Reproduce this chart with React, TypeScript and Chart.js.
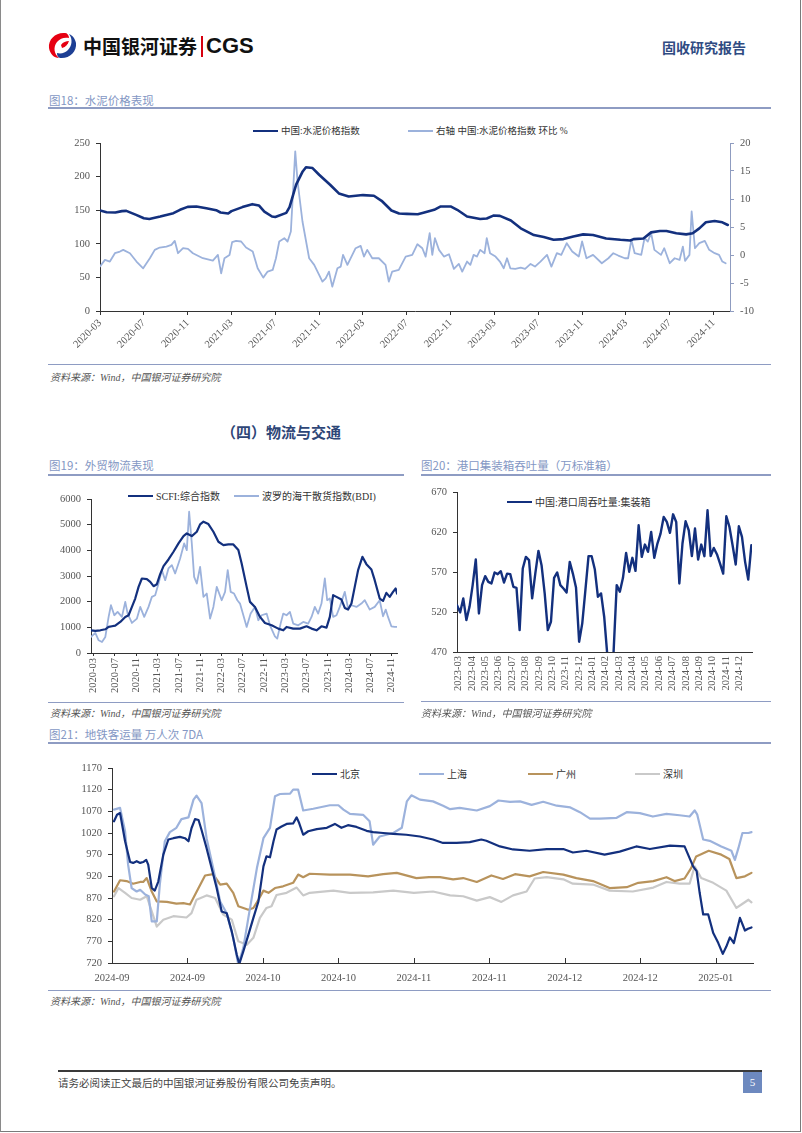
import React, { useEffect, useRef } from 'react';
import { Chart, registerables } from 'chart.js';
Chart.register(...registerables);

const NAVY = '#13307e';
const LIGHT = '#9cb2dc';
const TAN = '#b8935c';
const GREY = '#c9c9c9';
const AXIS = '#333333';
const TICKC = '#555555';
const SERIF = "'Liberation Serif', 'Times New Roman', 'Noto Sans CJK SC', serif";
const CJK = "'Noto Sans CJK SC', 'Liberation Sans', sans-serif";
const TITLE_BLUE = '#8497c4';
const RULE = '#8e9cc3';

Chart.defaults.font.family = SERIF;

// ---------- 图18 水泥价格 ----------
const tickLabels18 = ['2020-03','2020-07','2020-11','2021-03','2021-07','2021-11','2022-03','2022-07','2022-11','2023-03','2023-07','2023-11','2024-03','2024-07','2024-11'];
const cementMonths = [0,0.6,1.4,2,2.4,3.3,4,4.5,5.5,6.7,7.3,8,8.8,9.7,10.6,11,11.7,12,13,13.9,14.5,15,15.7,16,17,17.3,17.9,18.5,18.8,19.4,20,21,21.8,22.7,24,25,25.7,26.6,27.3,28,29,29.6,30.5,31.1,32,32.6,33.5,34.7,35.3,35.9,36.5,37.5,38.4,39.6,40.5,41.4,42.3,43.2,44.1,45,46.2,47.5,48.4,48.7,49.6,50.3,51.1,51.7,52.6,53.5,54.1,54.7,55.3,56.1,56.8,57.3];
const cementIndex = [149.6,147,146.6,148.6,149,143,138,137,140.6,145.6,150.6,155,155.6,153,150,146.6,145,148.6,154.6,159,157,148,140.6,140,146,154.6,188,207.7,214,212.7,202.8,187.9,175,170.5,172.5,171.5,164,149.6,145,144.6,144,146.6,150.6,155.6,155.6,150.6,140.6,137,137.7,142,141.5,134.7,123,113,110,106,107,111,114,113,108,106,105,107,108,117,119,119,115.8,114,115.8,123,132,134,132,128];
const momMonths = [0,0.45,0.9,1.36,1.82,2.12,2.73,3.33,3.94,4.55,5.0,5.45,6.06,6.52,6.82,7.12,7.58,8.03,8.48,9.39,10.3,10.76,11.06,11.36,11.82,12.06,12.42,12.88,13.33,13.94,14.39,14.9,15.3,15.76,16.06,16.36,16.82,17.12,17.42,17.82,18.03,18.48,19.09,19.55,20.0,20.3,20.6,20.9,21.2,21.67,21.97,22.18,22.58,23.33,23.79,24.09,24.39,24.85,25.45,26.06,26.36,26.67,27.27,27.9,28.5,28.97,29.42,29.72,30.09,30.33,30.57,30.94,31.39,31.85,32.3,32.75,33.06,33.5,33.8,34.1,34.4,34.7,35.1,35.3,35.6,36.1,36.5,36.85,37.15,37.45,37.9,38.4,38.8,39.3,39.7,40.2,40.8,41.2,41.7,42.1,42.6,43.1,43.7,44.0,44.4,45.0,45.8,46.4,46.85,47.3,47.9,48.2,48.5,48.8,49.4,49.7,50.0,50.3,50.6,51.2,51.5,52.0,52.45,52.9,53.2,53.4,53.8,54.0,54.3,54.7,55.2,55.6,56.1,56.5,56.8,57.1];
const momValues = [-2.07,-0.87,-1.17,0.32,0.62,0.92,0.32,-1.17,-2.37,-0.58,0.92,1.33,1.51,1.81,2.53,0.32,1.21,1.09,0.32,-0.58,-1.0,0.02,-3.26,-0.58,0,2.29,2.53,2.41,1.33,0.62,-2.37,-4.04,-2.96,-2.66,-0.58,2.41,3.0,2.41,4.2,18.5,13.14,5.98,-0.58,-1.77,-3.56,-4.75,-4.16,-2.96,-5.65,-2.37,-2.07,0.02,-1.77,1.21,1.63,-0.28,0.92,-0.58,-0.58,-1.77,-4.75,-2.96,-2.66,-0.28,0.02,1.93,1.21,-0.28,3.9,0.02,3.0,0.92,-0.28,0.14,-2.48,-1.59,-2.96,-1.17,-1.77,0.02,-0.28,0.92,0.32,3.0,0.32,-0.28,-1.17,-2.37,-0.58,-2.37,-2.48,-2.25,-2.48,-1.59,-2.07,-1.17,0.02,-2.07,0.32,0.02,2.11,0.62,-0.28,2.41,-0.58,0.02,-1.47,-0.58,0.32,-0.1,-0.58,-0.58,2.7,0.32,0.02,3.0,2.41,3.9,0.92,0.02,1.21,-1.47,-0.58,-0.87,1.51,-1.05,0.02,7.77,1.21,2.11,2.53,0.92,0.32,0.02,-1.17,-1.47];

// ---------- 图19 外贸物流 ----------
const tickLabels19 = ['2020-03','2020-07','2020-11','2021-03','2021-07','2021-11','2022-03','2022-07','2022-11','2023-03','2023-07','2023-11','2024-03','2024-07','2024-11'];
const scfiMonths = [-0.5,0.31,1.25,2.19,2.81,3.44,4.06,5.0,5.94,6.56,7.19,7.81,8.44,9.06,10.0,10.63,11.25,11.88,12.5,13.13,14.06,15.0,15.94,16.88,17.5,18.44,19.38,20.0,20.63,21.56,22.5,23.44,24.38,25.31,26.25,27.19,27.81,28.75,29.38,30.31,31.25,32.19,33.44,34.69,35.63,36.25,37.5,38.75,40.0,40.94,41.88,42.81,43.75,44.38,45.0,45.63,46.56,47.19,47.81,48.44,49.06,49.69,50.5,51.25,52.19,52.81,53.75,54.38,55.0,55.63,56.25,56.75,57.0];
const scfi = [885,859,885,924,1015,1041,1067,1210,1406,1471,1796,2121,2577,2902,2876,2772,2603,2681,3072,3384,3644,3944,4269,4555,4659,4555,4724,5011,5115,5024,4724,4334,4204,4230,4230,4009,3488,2577,1991,1796,1406,1171,1080,950,885,1015,950,950,1041,950,885,1041,989,1406,2252,2187,2082,1757,1692,1926,2577,3228,3748,3462,3254,2837,2121,2030,2343,2187,2382,2512,2317];
const bdiMonths = [-0.5,0.31,0.94,1.56,2.19,2.81,3.25,3.88,4.5,5.31,5.94,6.38,7.19,8.13,8.75,9.5,10.31,10.94,11.56,12.19,12.81,13.44,14.06,14.69,15.31,16.25,17.0,17.5,17.94,18.44,18.88,19.38,20.0,20.63,21.25,21.88,22.5,23.13,24.06,24.69,25.19,25.75,26.38,27.0,27.5,28.13,28.75,29.5,30.31,30.94,31.56,32.5,33.13,34.06,34.5,35.13,35.63,36.25,36.88,37.5,38.44,39.38,40.31,40.94,41.56,42.19,42.81,43.44,43.88,44.38,45.0,45.63,46.25,47.19,47.81,48.44,49.38,50.31,50.94,51.88,52.81,53.75,54.38,54.88,55.31,55.94,56.56,57.0];
const bdi = [625,781,495,430,625,1406,1861,1471,1601,1406,1991,1536,1171,1341,1796,1406,1796,2187,2252,2707,3228,2837,3293,3423,3098,3683,4269,4009,5505,4269,2967,2707,3358,2187,2317,1341,1796,2577,2056,2382,3228,2382,2317,2056,1926,1471,1015,1536,1796,1276,1471,1536,1080,651,560,1145,1536,1471,1601,1145,1080,1210,1145,1406,1796,1536,1926,2902,2056,2121,1406,1471,1796,2382,1731,1861,1796,1926,2056,1692,1796,2056,1432,1692,1406,1041,1015,1015];

// ---------- 图20 港口集装箱 (weekly) ----------
const monthLabels20 = ['2023-03','2023-04','2023-05','2023-06','2023-07','2023-08','2023-09','2023-10','2023-11','2023-12','2024-01','2024-02','2024-03','2024-04','2024-05','2024-06','2024-07','2024-08','2024-09','2024-10','2024-11','2024-12'];
const portWeekly = [528.6,519.5,537,510,526.5,553.6,585.6,518.2,553.6,564.8,557.7,555.7,569.4,567.3,571,556.9,568,567.3,551.5,550.2,497.4,574.4,588.9,584.8,537,568,596.4,578.5,543.2,497.4,507.8,562.7,569.4,553.6,549.4,544.4,582.7,568,550.7,482.9,505.8,547.3,589.8,589.8,573.5,539,543.2,514.1,466,460,470,553.6,545.3,562.7,593.9,570.2,587.7,571.4,628.4,588.9,604.3,595.2,620.1,587.7,605.6,618,638.8,632.6,618.9,642.1,632.6,555.7,605.6,633.4,622.2,589.8,624.3,585.6,604.3,589.8,647.1,589.8,600.1,592.2,580.6,568,639.6,626.3,603.5,579.4,627.2,613.9,582.7,560.6,603.5];
const weeksPerMonth20 = 4.266;

// ---------- 图21 地铁客运量 ----------
const tickLabels21 = ['2024-09','2024-09','2024-10','2024-10','2024-11','2024-11','2024-12','2024-12','2025-01'];
const daysPerTick21 = 15;
const bjDays = [0.4,1.0,1.6,2.6,3.6,4.2,4.9,5.6,6.2,6.8,7.2,7.9,8.5,9.2,10.2,11.2,12.2,13.5,14.5,15.2,15.8,16.5,17.2,17.8,18.8,19.8,20.8,21.8,22.8,23.8,24.8,25.3,26.1,27.1,28.1,29.1,30.1,30.7,31.4,32.1,32.7,33.7,34.7,36.0,36.7,37.2,38.0,39.0,40.7,42.7,44.3,45.6,46.9,48.6,50.6,51.9,53.9,55.9,58.5,61.2,63.8,65.8,68.5,71.1,73.4,74.4,77.1,79.7,83.0,86.4,89.7,91.6,94.3,97.9,100.9,104.2,106.9,110.9,113.8,115.5,116.2,116.8,117.5,118.5,119.5,120.5,121.4,122.1,122.8,123.6,124.8,125.8,126.4,127.1];
const beijing = [1047,1062,1066,1001,953,951,955,951,953,958,947,893,887,908,970,1005,1008,1011,1008,1001,1031,1052,1050,1027,985,939,893,839,835,793,739,718,747,785,824,862,943,966,964,1001,1028,1035,1041,1042,1056,1043,1016,1024,1029,1032,1041,1032,1038,1034,1025,1022,1020,1018,1016,1012,1005,997,997,999,1005,1002,989,982,979,983,983,975,979,970,977,989,983,991,989,943,932,882,832,832,789,766,741,758,779,766,824,795,799,802];
const shDays = [0.4,1.6,2.6,3.2,3.9,4.9,5.6,6.6,7.3,7.9,8.9,9.5,10.5,11.5,12.8,13.8,15.2,16.2,16.8,17.8,18.8,20.1,21.5,22.8,24.1,25.1,26.1,27.1,28.8,30.1,31.4,32.4,33.4,35.4,36.0,37.0,38.0,40.0,43.3,45.0,46.0,47.3,49.9,51.2,51.9,53.2,55.9,57.6,58.6,59.5,61.2,63.8,65.8,67.2,69.1,72.5,75.1,76.8,79.1,81.1,83.4,85.7,88.4,91.1,93.0,95.0,97.0,100.3,102.3,104.9,107.5,110.2,112.8,114.8,115.8,116.3,117.5,118.8,121.1,123.1,123.8,124.5,125.3,126.5,127.1];
const shanghai = [1074,1078,1024,947,893,885,889,878,874,816,816,901,1001,1022,1032,1052,1056,1097,1106,1089,1008,939,862,835,778,716,755,824,939,1008,1032,1105,1110,1111,1120,1120,1072,1076,1084,1084,1074,1064,1062,1047,993,1012,1020,1032,1093,1107,1097,1093,1083,1075,1078,1072,1082,1095,1092,1093,1085,1092,1083,1079,1068,1053,1053,1055,1068,1066,1058,1064,1061,1058,1072,1063,1005,1002,989,979,958,985,1020,1020,1022];
const gzDays = [0.4,1.6,2.9,4.2,5.6,6.2,6.9,7.9,8.9,10.9,12.8,14.2,15.5,17.2,18.5,20.1,21.5,22.8,24.1,25.1,27.1,28.1,29.1,30.1,31.1,32.4,34.0,36.0,37.0,38.0,39.3,43.3,47.3,50.9,53.9,56.6,59.2,60.5,63.0,65.2,67.8,69.8,72.5,75.4,77.7,80.1,83.0,85.7,89.7,92.3,95.6,98.9,102.3,104.6,107.6,110.2,111.8,113.8,115.1,116.1,118.6,121.1,122.7,124.1,125.8,127.1];
const guangzhou = [885,911,909,903,907,907,916,885,862,861,857,858,855,893,922,925,901,903,882,851,843,847,866,887,882,893,897,905,924,918,926,924,924,920,925,928,920,916,918,918,913,916,907,922,914,925,920,930,924,916,909,893,895,905,909,918,909,915,939,966,979,970,960,916,920,928];
const szDays = [0.4,1.3,2.6,3.9,5.6,6.9,7.9,8.9,10.2,12.2,14.8,15.8,16.8,18.8,20.5,22.1,23.8,25.1,26.8,28.1,29.4,30.7,31.7,32.7,34.7,36.7,38.0,39.3,44.0,47.3,51.9,55.9,60.0,63.8,67.2,69.8,72.5,75.1,77.4,79.7,82.4,84.0,86.4,89.7,91.6,95.6,98.9,103.5,107.6,110.2,112.8,114.8,115.8,117.1,119.5,122.1,124.1,125.1,126.5,127.1];
const shenzhen = [874,893,882,870,866,874,839,804,820,828,825,835,866,876,870,832,820,770,762,778,824,847,851,877,882,894,876,882,887,882,883,887,882,885,876,874,864,872,861,876,885,915,918,913,903,901,887,885,894,907,903,903,943,916,905,887,847,855,866,860];

// ---------- helpers ----------
const pts = (xs: number[], ys: number[]) => xs.map((x, i) => ({ x, y: ys[i] }));

function baseOptions(padding: any) {
  return {
    responsive: false,
    maintainAspectRatio: false,
    animation: false,
    layout: { padding },
    plugins: { legend: { display: false }, tooltip: { enabled: false }, title: { display: false } },
    elements: { point: { radius: 0 }, line: { tension: 0, borderJoinStyle: 'round', borderCapStyle: 'round' } },
  };
}

function xAxis(o: any) {
  return {
    type: 'linear',
    min: o.min,
    max: o.max,
    bounds: 'data',
    afterBuildTicks: (s: any) => { s.ticks = o.ticksAt.map((v: number) => ({ value: v })); },
    ticks: {
      autoSkip: false,
      minRotation: o.rotation,
      maxRotation: o.rotation,
      padding: o.pad,
      color: TICKC,
      font: { family: SERIF, size: o.size || 10 },
      callback: (_v: any, i: number) => o.labels[i],
    },
    grid: { drawOnChartArea: false, drawTicks: o.tickLen > 0, tickLength: o.tickLen || 0, color: AXIS },
    border: { display: true, color: AXIS, width: 1 },
    afterFit: (s: any) => { s.height = o.height; },
  };
}

function yAxis(o: any) {
  return {
    type: 'linear',
    position: o.position || 'left',
    min: o.min,
    max: o.max,
    ticks: { stepSize: o.step, padding: 6, color: TICKC, font: { family: SERIF, size: 10.5 }, callback: (v: any) => String(v) },
    grid: { drawOnChartArea: false, drawTicks: true, tickLength: 4, color: o.color || AXIS },
    border: { display: true, color: o.color || AXIS, width: 1 },
    afterFit: (s: any) => { s.width = o.width; },
  };
}

const innerTicks = {
  id: 'innerTicks',
  afterDraw(chart: any) {
    const s = chart.scales.x;
    const ctx = chart.ctx;
    ctx.save();
    ctx.strokeStyle = AXIS;
    ctx.lineWidth = 1;
    s.ticks.forEach((t: any) => {
      const px = Math.round(s.getPixelForValue(t.value)) + 0.5;
      ctx.beginPath();
      ctx.moveTo(px, s.top);
      ctx.lineTo(px, s.top - 5);
      ctx.stroke();
    });
    ctx.restore();
  },
};

function ChartCanvas({ x, y, w, h, make }: any) {
  const ref = useRef<HTMLCanvasElement>(null);
  useEffect(() => {
    const c = new Chart(ref.current as HTMLCanvasElement, make());
    return () => c.destroy();
  }, []);
  return <canvas ref={ref} width={w} height={h} style={{ position: 'absolute', left: x, top: y, width: w, height: h }} />;
}

function T({ x, y, size, color = '#333', weight = 'normal', family = CJK, italic = false, children }: any) {
  return (
    <div style={{ position: 'absolute', left: x, top: y - size * 0.65, fontSize: size, lineHeight: `${size * 1.3}px`, color, fontWeight: weight, fontFamily: family, fontStyle: italic ? 'italic' : 'normal', whiteSpace: 'nowrap' }}>
      {children}
    </div>
  );
}

function HLine({ x1, x2, y, color, h = 1 }: any) {
  return <div style={{ position: 'absolute', left: x1, top: y - h / 2, width: x2 - x1, height: h, background: color }} />;
}

function Leg({ x, y, color, label, w = 25, size = 10, color2 = '#333' }: any) {
  return (
    <>
      <div style={{ position: 'absolute', left: x, top: y - 1.25, width: w, height: 2.5, background: color }} />
      <T x={x + w + 3} y={y} size={size} color={color2} family={SERIF}>{label}</T>
    </>
  );
}

// ---------- chart configs ----------
const make18 = () => ({
  type: 'line',
  data: {
    datasets: [
      { data: pts(cementMonths, cementIndex), borderColor: NAVY, borderWidth: 2.6, yAxisID: 'y' },
      { data: pts(momMonths, momValues), borderColor: LIGHT, borderWidth: 1.8, yAxisID: 'y2' },
    ],
  },
  options: {
    ...baseOptions({ top: 23, right: 0, left: 0, bottom: 0 }),
    scales: {
      x: xAxis({ min: 0, max: 57.5, ticksAt: tickLabels18.map((_, i) => i * 4), labels: tickLabels18, rotation: 45, pad: 2, tickLen: 4, height: 49, size: 10.5 }),
      y: yAxis({ min: 0, max: 250, step: 50, width: 52 }),
      y2: yAxis({ min: -10, max: 20, step: 5, width: 48, position: 'right', color: '#8f9cc0' }),
    },
  },
});

const make19 = () => ({
  type: 'line',
  data: {
    datasets: [
      { data: pts(scfiMonths, scfi), borderColor: NAVY, borderWidth: 2.2 },
      { data: pts(bdiMonths, bdi), borderColor: LIGHT, borderWidth: 1.8 },
    ],
  },
  options: {
    ...baseOptions({ top: 19, right: 11, left: 0, bottom: 0 }),
    scales: {
      x: xAxis({ min: -0.5, max: 57, ticksAt: tickLabels19.map((_, i) => i * 4), labels: tickLabels19, rotation: 90, pad: 2, tickLen: 3, height: 49, size: 10.5 }),
      y: yAxis({ min: 0, max: 6000, step: 1000, width: 43 }),
    },
  },
});

const make20 = () => ({
  type: 'line',
  data: {
    datasets: [
      { data: portWeekly.map((v, i) => ({ x: i, y: v })), borderColor: NAVY, borderWidth: 2.4 },
    ],
  },
  options: {
    ...baseOptions({ top: 14, right: 8, left: 0, bottom: 0 }),
    scales: {
      x: xAxis({ min: 0, max: 94.2, ticksAt: monthLabels20.map((_, k) => 0.53 + k * weeksPerMonth20), labels: monthLabels20, rotation: 90, pad: 4, tickLen: 0, height: 50, size: 10.5 }),
      y: yAxis({ min: 470, max: 670, step: 50, width: 42 }),
    },
  },
});

const make21 = () => ({
  type: 'line',
  data: {
    datasets: [
      { data: pts(bjDays, beijing), borderColor: NAVY, borderWidth: 2.2 },
      { data: pts(shDays, shanghai), borderColor: LIGHT, borderWidth: 2.2 },
      { data: pts(gzDays, guangzhou), borderColor: TAN, borderWidth: 2.2 },
      { data: pts(szDays, shenzhen), borderColor: GREY, borderWidth: 2.2 },
    ],
  },
  options: {
    ...baseOptions({ top: 18, right: 15, left: 0, bottom: 0 }),
    scales: {
      x: xAxis({ min: 0, max: 127.4, ticksAt: tickLabels21.map((_, i) => i * daysPerTick21), labels: tickLabels21, rotation: 0, pad: 9, tickLen: 0, height: 23, size: 10.5 }),
      y: yAxis({ min: 720, max: 1170, step: 50, width: 64 }),
    },
  },
  plugins: [innerTicks],
});

function Logo() {
  return (
    <svg width={31} height={27} viewBox="0 0 31 27" style={{ position: 'absolute', left: 47, top: 32 }}>
      <path d="M18 1 C9 0 1 7 2 16 C3 22 7 26 12 26 C7 22 6 15 10 10 C13 6 18 5 22 6 C22 3 20 1 18 1 Z" fill="#e60012" />
      <path d="M13 26 C22 27 30 20 29 11 C28 6 25 3 22 2 C26 7 25 14 21 18 C18 21 14 22 10 21 C10 24 11 25 13 26 Z" fill="#1d3f94" />
      <path d="M14 13 C16 10 19 9 22 9 C21 12 19 15 15 16 Z" fill="#e60012" />
    </svg>
  );
}

export default function App() {
  return (
    <div style={{ position: 'absolute', left: 0, top: 0, width: 802, height: 1133, background: '#fff', overflow: 'hidden' }}>
      {/* page frame */}
      <div style={{ position: 'absolute', left: 0, top: -2, width: 801, height: 1134, borderLeft: '1px solid #8a8a8a', borderRight: '1.5px solid #7a7a7a', borderBottom: '1.5px solid #7a7a7a', boxSizing: 'border-box' }} />

      {/* header */}
      <Logo />
      <T x={83} y={46} size={19} weight="bold" color="#111">中国银河证券</T>
      <div style={{ position: 'absolute', left: 201, top: 36, width: 2, height: 21, background: '#d7000f' }} />
      <T x={206} y={46} size={22} weight="bold" color="#111" family="'Liberation Sans', Arial, sans-serif">CGS</T>
      <T x={662} y={47} size={14} weight="bold" color="#2f4b82">固收研究报告</T>

      {/* 图18 */}
      <T x={49} y={100} size={11.5} color={TITLE_BLUE}>图18：水泥价格表现</T>
      <HLine x1={48} x2={771} y={108} color={RULE} h={1.5} />
      <Leg x={253} y={131} color={NAVY} label="中国:水泥价格指数" size={9.5} />
      <Leg x={408} y={131} color={LIGHT} label="右轴 中国:水泥价格指数 环比 %" size={9.5} />
      <ChartCanvas x={48} y={120} w={730} h={240} make={make18} />
      <HLine x1={48} x2={771} y={364} color={RULE} h={1} />
      <T x={50} y={377} size={10} color="#555" italic family={SERIF}>资料来源：Wind，中国银河证券研究院</T>

      {/* section */}
      <T x={221} y={432} size={15} weight="bold" color="#2e4677">（四）物流与交通</T>

      {/* 图19 */}
      <T x={49} y={465} size={11.5} color={TITLE_BLUE}>图19：外贸物流表现</T>
      <HLine x1={48} x2={404} y={475} color={RULE} h={1.5} />
      <Leg x={128} y={496} color={NAVY} label="SCFI:综合指数" size={10} />
      <Leg x={234} y={496} color={LIGHT} label="波罗的海干散货指数(BDI)" size={10} />
      <ChartCanvas x={48} y={480} w={360} h={222} make={make19} />
      <HLine x1={48} x2={404} y={702} color={RULE} h={1} />
      <T x={50} y={713} size={10} color="#555" italic family={SERIF}>资料来源：Wind，中国银河证券研究院</T>

      {/* 图20 */}
      <T x={421} y={465} size={11.5} color={TITLE_BLUE}>图20：港口集装箱吞吐量（万标准箱）</T>
      <HLine x1={421} x2={771} y={475} color={RULE} h={1.5} />
      <Leg x={507} y={502} color={NAVY} label="中国:港口周吞吐量:集装箱" size={10} />
      <ChartCanvas x={415} y={478} w={345} h={224} make={make20} />
      <HLine x1={421} x2={771} y={701} color={RULE} h={1} />
      <T x={421} y={713} size={10} color="#555" italic family={SERIF}>资料来源：Wind，中国银河证券研究院</T>

      {/* 图21 */}
      <T x={49} y={734} size={11.5} color={TITLE_BLUE}>图21：地铁客运量 万人次 7DA</T>
      <HLine x1={48} x2={771} y={743} color={RULE} h={1.5} />
      <Leg x={312} y={774} color={NAVY} label="北京" size={10} />
      <Leg x={419} y={774} color={LIGHT} label="上海" size={10} />
      <Leg x={528} y={774} color={TAN} label="广州" size={10} />
      <Leg x={635} y={774} color={GREY} label="深圳" size={10} />
      <ChartCanvas x={48} y={750} w={720} h={236} make={make21} />
      <HLine x1={48} x2={771} y={990} color={RULE} h={1} />
      <T x={50} y={1001} size={10} color="#555" italic family={SERIF}>资料来源：Wind，中国银河证券研究院</T>

      {/* footer */}
      <HLine x1={58} x2={762} y={1071} color="#3a3a3a" h={1.5} />
      <T x={58} y={1083} size={10.5} color="#444">请务必阅读正文最后的中国银河证券股份有限公司免责声明。</T>
      <div style={{ position: 'absolute', left: 743, top: 1072, width: 19, height: 21, background: '#6d89bf', color: '#fff', fontFamily: SERIF, fontSize: 11, lineHeight: '21px', textAlign: 'center' }}>5</div>
    </div>
  );
}
